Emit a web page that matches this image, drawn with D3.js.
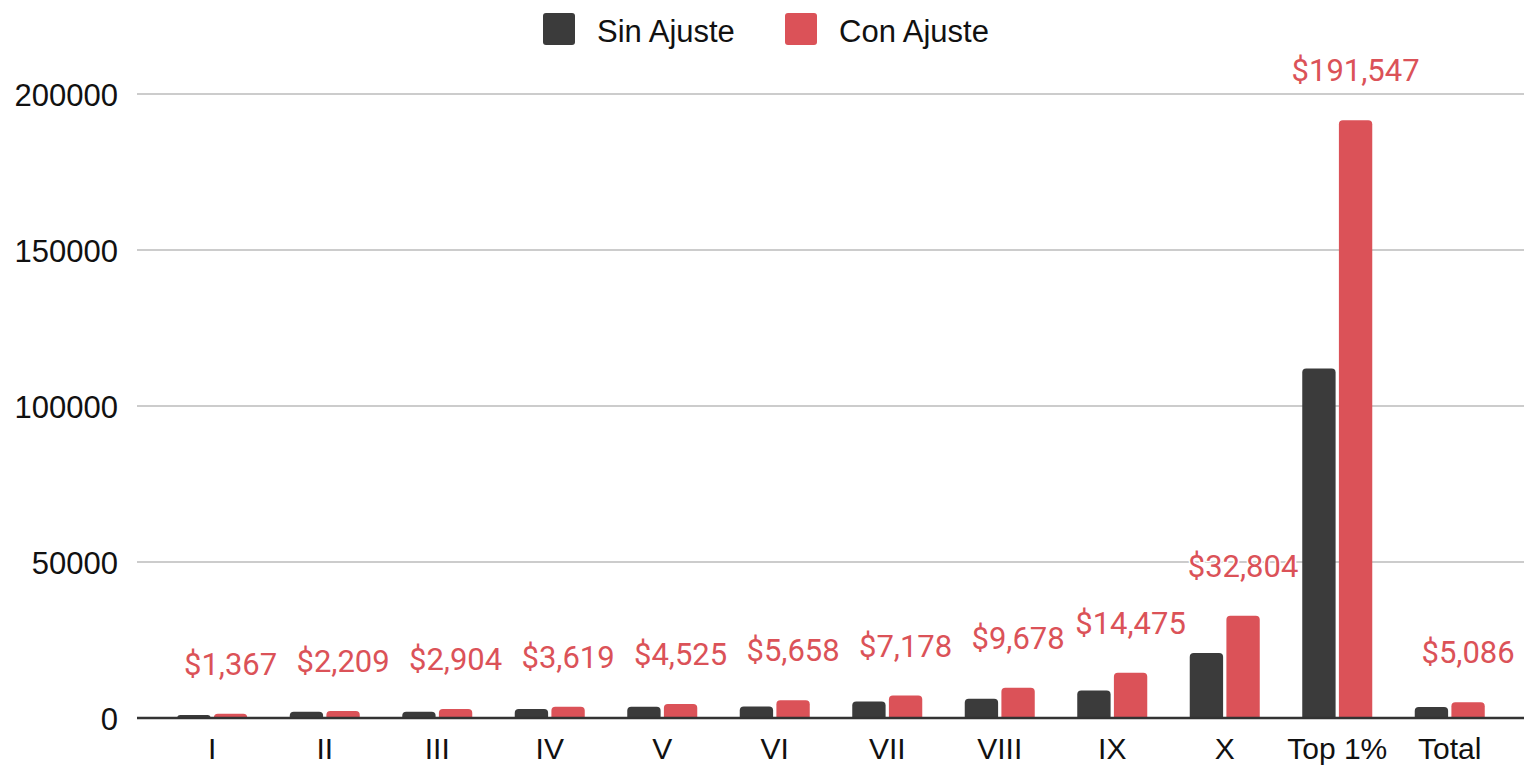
<!DOCTYPE html>
<html>
<head>
  <meta charset="utf-8">
  <title>Sin Ajuste / Con Ajuste</title>
  <script src="https://cdn.jsdelivr.net/npm/d3@7"></script>
  <style>
    body { margin: 0; background: #fff; }
    svg { display: block; }
  </style>
</head>
<body>
<div id="container"></div>
<script>
  // data
  var categories = ["I", "II", "III", "IV", "V", "VI", "VII", "VIII", "IX", "X", "Top 1%", "Total"];
  var sinAjuste = [1000, 2000, 2000, 2900, 3600, 3700, 5300, 6200, 8800, 20800, 112000, 3500];
  var conAjuste = [1367, 2209, 2904, 3619, 4525, 5658, 7178, 9678, 14475, 32804, 191547, 5086];
  var yTicks = [0, 50000, 100000, 150000, 200000];
  var seriesNames = ["Sin Ajuste", "Con Ajuste"];
  var seriesColors = ["#3b3b3b", "#db5258"];

  var width = 1524, height = 769;

  var svg = d3.select("#container").append("svg")
      .attr("width", width).attr("height", height);

  var x = d3.scaleBand().domain(categories).range([156, 1506]);
  var xSub = d3.scaleBand().domain([0, 1]).range([-35, 35]).paddingInner(0.09);
  var y = d3.scaleLinear().domain([0, 200000]).range([718, 94]);

  var axisFont = "'Liberation Sans', Arial, sans-serif";

  // gridlines + y labels
  var grid = svg.append("g");
  grid.selectAll("line").data(yTicks.filter(function(d){ return d > 0; })).enter()
    .append("line")
    .attr("x1", 137).attr("x2", width)
    .attr("y1", function(d){ return y(d); }).attr("y2", function(d){ return y(d); })
    .attr("stroke", "#cccccc").attr("stroke-width", 2);

  grid.selectAll("text").data(yTicks).enter()
    .append("text")
    .attr("x", 118)
    .attr("y", function(d){ return y(d) + 12; })
    .attr("text-anchor", "end")
    .style("font-family", axisFont).style("font-size", "31px").style("fill", "#111")
    .text(function(d){ return d; });

  // bars, top corners rounded
  function barPath(x0, w, y0, y1) {
    var r = Math.min(4, (y0 - y1));
    return "M" + x0 + "," + y0 +
      "V" + (y1 + r) +
      "Q" + x0 + "," + y1 + " " + (x0 + r) + "," + y1 +
      "H" + (x0 + w - r) +
      "Q" + (x0 + w) + "," + y1 + " " + (x0 + w) + "," + (y1 + r) +
      "V" + y0 + "Z";
  }

  var series = [sinAjuste, conAjuste];
  var bars = svg.append("g");
  series.forEach(function(vals, s) {
    bars.selectAll(".bar" + s).data(vals).enter()
      .append("path")
      .attr("class", "bar" + s)
      .attr("fill", seriesColors[s])
      .attr("d", function(d, i) {
        var cx = x(categories[i]) + x.bandwidth() / 2;
        return barPath(cx + xSub(s), xSub.bandwidth(), y(0), y(d));
      });
  });

  // baseline
  svg.append("line")
    .attr("x1", 137).attr("x2", width)
    .attr("y1", y(0)).attr("y2", y(0))
    .attr("stroke", "#333").attr("stroke-width", 2.5);

  // x labels
  svg.append("g").selectAll("text").data(categories).enter()
    .append("text")
    .attr("x", function(d){ return x(d) + x.bandwidth() / 2; })
    .attr("y", 759)
    .attr("text-anchor", "middle")
    .style("font-family", axisFont).style("font-size", "30px").style("fill", "#111")
    .text(function(d){ return d; });

  // annotations on red bars
  var fmt = d3.format("$,");
  svg.append("g").selectAll("text").data(conAjuste).enter()
    .append("text")
    .attr("x", function(d, i){ return x(categories[i]) + x.bandwidth() / 2 + xSub(1) + xSub.bandwidth() / 2; })
    .attr("y", function(d){ return y(d) - 39; })
    .attr("text-anchor", "middle")
    .style("font-family", "Roboto, sans-serif").style("font-size", "31px")
    .style("fill", "#db5258")
    .style("stroke", "#fff").style("stroke-width", 3).style("paint-order", "stroke")
    .text(function(d){ return fmt(d); });

  // legend
  var legend = svg.append("g");
  var legendX = [543, 785];
  seriesNames.forEach(function(name, i) {
    legend.append("rect")
      .attr("x", legendX[i]).attr("y", 13)
      .attr("width", 32).attr("height", 32).attr("rx", 3)
      .attr("fill", seriesColors[i]);
    legend.append("text")
      .attr("x", legendX[i] + 54).attr("y", 42)
      .style("font-family", axisFont).style("font-size", "31px").style("fill", "#111")
      .text(name);
  });
</script>
</body>
</html>
